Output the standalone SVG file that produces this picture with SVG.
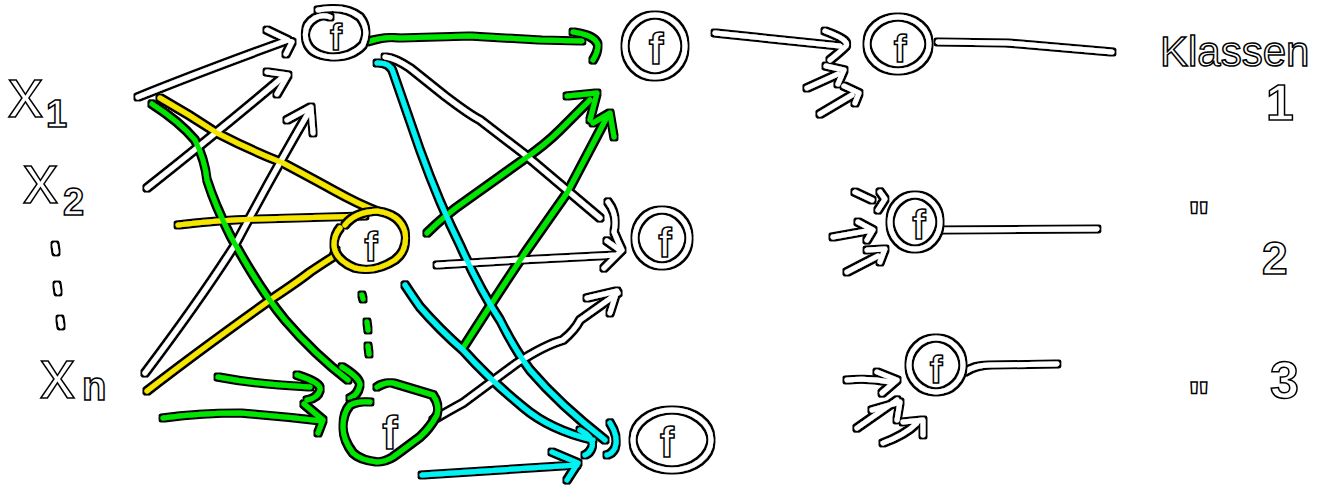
<svg xmlns="http://www.w3.org/2000/svg" width="1325" height="490" viewBox="0 0 1325 490">
<style>
.s{fill:none;stroke-width:5;stroke-linecap:round;stroke-linejoin:round}
.w{stroke:#fff}.g{stroke:#00e600}.y{stroke:#f5e600}.c{stroke:#00f2f2}
.t{fill:#fff;stroke:#000;stroke-width:1.5;font-family:"Liberation Sans",Arial,sans-serif}
.b{font-weight:bold}
.f{text-anchor:middle;font-weight:bold}
.ol{filter:url(#ol)}
</style>
<defs>
<filter id="ol" filterUnits="userSpaceOnUse" x="0" y="0" width="1325" height="490">
<feMorphology in="SourceAlpha" operator="dilate" radius="1.6" result="d"/>
<feFlood flood-color="#000"/>
<feComposite in2="d" operator="in" result="o"/>
<feMerge><feMergeNode in="o"/><feMergeNode in="SourceGraphic"/></feMerge>
</filter>
</defs>
<rect width="1325" height="490" fill="#fff"/>

<g id="connectors" class="ol">
<path class="s w" d="M138,97 Q200,72 288,40 M267,30 L292,42 L286,54"/>
<path class="s w" d="M147,188 Q220,130 283,77 M267,72 L288,75 L277,94"/>
<path class="s w" d="M145,373 Q200,300 235,245 Q275,170 310,110 M287,120 L311,107 L313,133"/>
<path class="s y" d="M160,98 Q190,115 217,133 Q250,150 283,163 Q315,180 333,190 Q360,205 377,211"/>
<path class="s y" d="M178,225 Q220,220 260,219 L365,216"/>
<path class="s y" d="M147,391 Q200,350 273,298 Q300,280 310,272 Q325,262 333,257 L336,250"/>
<path class="s g" d="M152,104 Q180,122 195,140 Q205,160 207,180 Q215,205 230,235 Q260,290 285,320 Q315,355 348,380 M342,367 Q360,378 360,385 Q358,395 350,398"/>
<path class="s g" d="M218,377 Q250,383 280,385 L310,387 M297,375 Q322,383 320,390 Q318,398 307,400"/>
<path class="s g" d="M163,418 Q200,413 240,413 Q280,416 322,421 M304,404 L323,420 L318,433"/>
<path class="s g" d="M362,295 L363,299 M367,322 L368,330 M368,346 L369,354"/>
<path class="s g" d="M367,42 Q385,36 400,38 L470,36 L540,40 L582,41 M573,32 Q595,35 598,45 Q598,52 593,60"/>
<path class="s w" d="M385,57 Q395,58 410,68 L445,96 Q470,115 480,120 L523,153 L600,218 M608,202 Q618,215 614,232 Q618,242 622,250"/>
<path class="s w" d="M437,265 L520,260 L617,255 M607,241 L621,251 L604,268"/>
<path class="s w" d="M433,420 Q450,410 463,403 L517,363 Q545,345 563,340 Q575,330 580,320 L618,293 M587,298 L617,291 L610,313"/>
<path class="s g" d="M427,233 Q445,215 467,200 L523,160 Q545,145 560,130 L590,100 M567,96 L597,93 L590,120"/>
<path class="s g" d="M463,348 Q500,290 527,250 L567,193 L607,117 M593,123 L610,113 L614,137"/>
<path class="s c" d="M377,63 Q390,62 393,72 L420,150 Q440,205 460,245 Q480,290 500,320 Q515,350 530,370 Q560,405 605,440"/>
<path class="s c" d="M405,285 Q415,300 420,307 Q440,330 463,350 Q490,380 523,407 Q550,430 593,440 M580,430 Q595,438 592,447 Q590,453 585,455"/>
<path class="s c" d="M610,423 Q619,437 615,448 Q612,454 607,455"/>
<path class="s c" d="M422,475 Q470,472 500,470 L577,465 M552,452 L578,463 L567,480"/>
<path class="s w" d="M715,33 L840,46 M825,31 Q850,40 846,46 Q840,52 830,60"/>
<path class="s w" d="M807,88 L838,74 M826,66 L844,70 L838,84"/>
<path class="s w" d="M820,114 L852,95 M844,86 L859,93 L855,103"/>
<path class="s w" d="M938,42 L1007,43 L1112,52"/>
<path class="s w" d="M855,192 L872,200 M880,192 L885,199 L878,210"/>
<path class="s w" d="M833,237 L872,230 M858,222 L873,230 L867,240"/>
<path class="s w" d="M847,272 L878,256 M867,250 L885,249 L880,262"/>
<path class="s w" d="M940,230 L1097,229"/>
<path class="s w" d="M847,380 Q870,378 890,382 M877,372 L897,380 L882,393"/>
<path class="s w" d="M857,428 L897,400 M872,410 L900,402 L897,420"/>
<path class="s w" d="M883,443 Q905,435 917,423 M903,422 L923,420 L923,435"/>
<path class="s w" d="M965,372 Q975,365 990,365 L1057,364"/>
</g>

<g id="labels">
<text class="t" x="8" y="117" font-size="70">x</text>
<text class="t b" x="46" y="127" font-size="38">1</text>
<text class="t" x="23" y="203" font-size="70">x</text>
<text class="t b" x="63" y="215" font-size="38">2</text>
<g class="ol"><path class="s w" d="M55,245 L56,252 M57,285 L58,292 M60,319 L61,326"/></g>
<text class="t" x="40" y="398" font-size="70">x</text>
<text class="t b" x="82" y="400" font-size="40">n</text>
<text class="t" x="1160" y="66" font-size="42">Klassen</text>
<text class="t b" x="1266" y="120" font-size="50">1</text>
<text class="t b" x="1188" y="234" font-size="46">"</text>
<text class="t b" x="1262" y="274" font-size="46">2</text>
<text class="t b" x="1188" y="414" font-size="46">"</text>
<text class="t b" x="1270" y="398" font-size="52">3</text>
</g>

<g id="node-h1"><g class="ol"><path class="s w" d="M318,10 Q345,5 360,17 Q370,30 363,45 Q352,57 333,57 Q310,56 306,40 Q303,25 315,18 Q322,14 330,17"/></g><text class="t f" x="336" y="50" font-size="36">f</text></g>
<g id="node-h2"><g class="ol"><path class="s y" d="M345,225 Q355,212 377,211 Q400,214 405,232 Q408,250 395,260 Q375,273 355,268 Q335,260 334,245 Q334,235 340,228"/></g><text class="t f" x="371" y="261" font-size="40">f</text></g>
<g id="node-hn"><g class="ol"><path class="s g" d="M377,387 Q385,382 393,383 L433,395 Q440,405 437,415 Q430,428 420,437 Q400,452 393,457 Q385,462 377,462 Q360,460 353,453 Q343,440 343,427 Q343,413 350,405 Q358,401 370,402"/></g><text class="t f" x="390" y="449" font-size="46">f</text></g>
<g id="node-o1"><g class="ol"><ellipse class="s w" cx="655" cy="46" rx="30" ry="31"/></g><text class="t f" x="656" y="64" font-size="44">f</text></g>
<g id="node-o2"><g class="ol"><ellipse class="s w" cx="662" cy="238" rx="27" ry="28"/></g><text class="t f" x="665" y="257" font-size="40">f</text></g>
<g id="node-o3"><g class="ol"><ellipse class="s w" cx="672" cy="440" rx="39" ry="30"/></g><text class="t f" x="667" y="457" font-size="42">f</text></g>
<g id="node-r1"><g class="ol"><ellipse class="s w" cx="898" cy="44" rx="31" ry="27"/></g><text class="t f" x="900" y="62" font-size="38">f</text></g>
<g id="node-r2"><g class="ol"><ellipse class="s w" cx="915" cy="222" rx="25" ry="27"/></g><text class="t f" x="919" y="239" font-size="40">f</text></g>
<g id="node-r3"><g class="ol"><ellipse class="s w" cx="936" cy="365" rx="27" ry="27"/></g><text class="t f" x="936" y="383" font-size="38">f</text></g>
</svg>
